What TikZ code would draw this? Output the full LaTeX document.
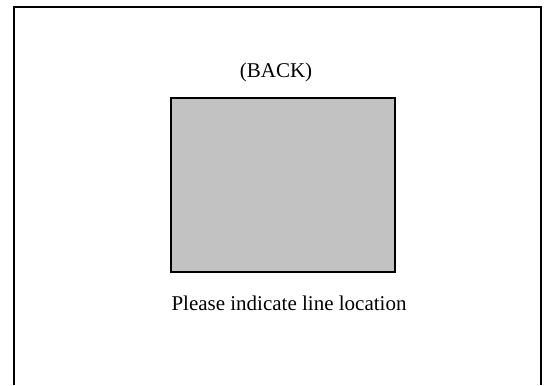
\documentclass[tikz,border=0pt]{standalone}
\usepackage{fontspec}
\setmainfont{Liberation Serif}
\usetikzlibrary{positioning}

\begin{document}
\begin{tikzpicture}[x=1pt,y=-1pt,
	panel/.style={draw,line width=2pt,fill=lightgray!95!white,minimum width=224pt,minimum height=174pt,inner sep=0pt},
	caption/.style={inner sep=0pt,font=\fontsize{21}{25}\selectfont}]
\useasboundingbox (0,0) rectangle (545,385);
% outer sheet, open at the bottom
\coordinate (bl) at (14,385);
\coordinate (tr) at (541,7);
\coordinate (br) at (541,385);
\draw[line width=2pt] (bl) |- (tr) -- (br);
\node [panel] (back) at (283,185) {};
\node [caption] (title) at (276,72) {(BACK)};
\node [caption] (note) at (289,303) {Please indicate line location};
\end{tikzpicture}
\end{document}
